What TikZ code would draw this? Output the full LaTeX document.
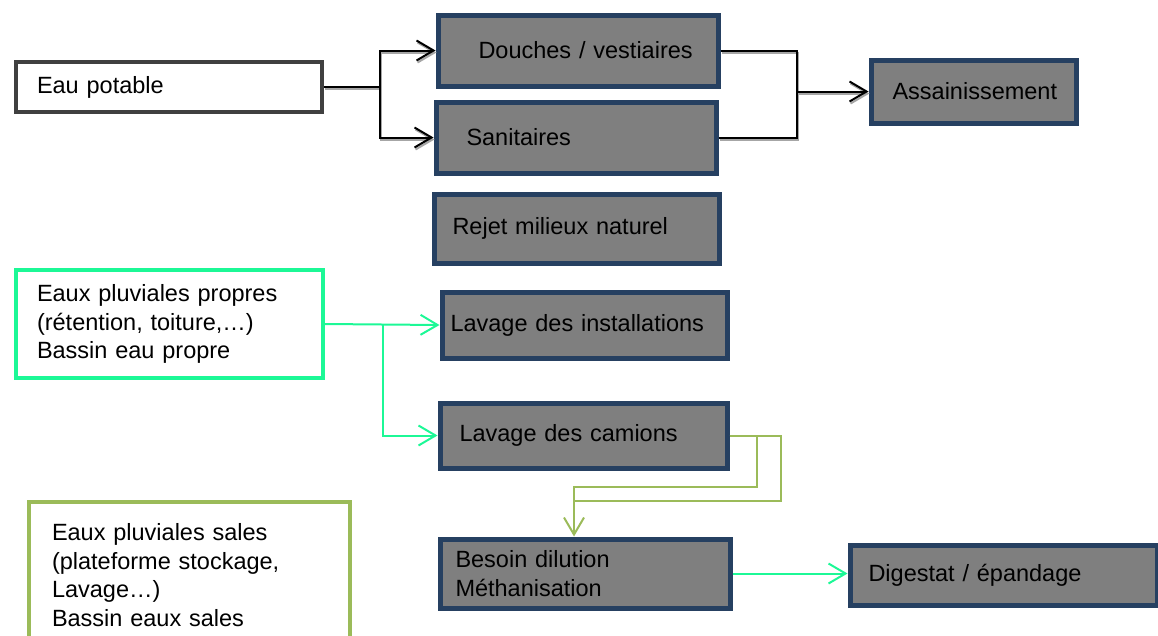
\documentclass[tikz,border=0pt]{standalone}
\usepackage{fontspec}
\setmainfont{Liberation Sans}
\usetikzlibrary{arrows.meta}
\definecolor{boxblue}{RGB}{38,64,97}
\definecolor{boxgray}{RGB}{127,127,127}
\definecolor{darkframe}{RGB}{64,64,64}
\definecolor{cleanwater}{RGB}{28,248,150}
\definecolor{dirtywater}{RGB}{155,187,89}

\begin{document}
\begin{tikzpicture}[x=1pt,y=-1pt,>={Straight Barb[length=17pt,width=20pt]},
    font=\fontsize{23.5pt}{28.5pt}\selectfont,
    every node/.style={anchor=north west,inner xsep=0pt,inner ysep=0pt,align=left},
    textindent/.style={execute at begin node={\leftskip=#1}},
    tank/.style={draw=boxblue,fill=boxgray,line width=5pt},
    source/.style={draw=#1,fill=white,line width=4pt},
    pipe/.style={black,line width=2pt,preaction={draw=black!35,line width=2pt,transform canvas={shift={(1pt,-2pt)}}}},
    clean/.style={cleanwater,line width=2pt},
    dirty/.style={dirtywater,line width=2pt}]
    \useasboundingbox (0,0) rectangle (1158,635);
    % sources
    \node[source=darkframe,minimum width=306,minimum height=50,text width=306pt,textindent=21pt] (eau) at (14,60) {Eau potable};
    \node[source=cleanwater,minimum width=307,minimum height=108,text width=307pt,textindent=21pt] (propres) at (14,268) {Eaux pluviales propres\\(rétention, toiture,…)\\Bassin eau propre};
    \node[source=dirtywater,minimum width=321,minimum height=146,text width=321pt,textindent=23pt] (sales) at (27,500) {Eaux pluviales sales\\(plateforme stockage,\\Lavage…)\\Bassin eaux sales};
    % usages
    \node[tank,minimum width=280,minimum height=71,text width=280pt,textindent=40.5pt] (douches) at (435.5,12.5) {Douches / vestiaires};
    \node[tank,minimum width=280,minimum height=71,text width=280pt,textindent=30.5pt] (sanit) at (433.5,99.5) {Sanitaires};
    \node[tank,minimum width=205,minimum height=63,text width=205pt,textindent=21.5pt] (assain) at (868.5,57.5) {Assainissement};
    \node[tank,minimum width=285,minimum height=69,text width=285pt,textindent=18.5pt] (rejet) at (431.5,191.5) {Rejet milieux naturel};
    \node[tank,minimum width=285,minimum height=66,text width=285pt,textindent=8.5pt] (lavinst) at (439.5,289.5) {Lavage des installations};
    \node[tank,minimum width=287,minimum height=65,text width=287pt,textindent=19.5pt] (camions) at (437.5,400.5) {Lavage des camions};
    \node[tank,minimum width=290,minimum height=69,text width=290pt,textindent=15.5pt] (besoin) at (437.5,536.5) {Besoin dilution\\Méthanisation};
    \node[tank,minimum width=307,minimum height=60,text width=307pt,textindent=18.5pt] (digestat) at (847.5,542.5) {Digestat / épandage};
    % eau potable
    \draw[pipe] (eau.east) -- ++(56,0) coordinate (split);
    \draw[pipe,->] (split) |- (douches.west);
    \draw[pipe,->] (split) |- (sanit.west);
    \path (assain.west) ++(-71.5,0) coordinate (merge);
    \draw[pipe] (douches.east) -| (merge);
    \draw[pipe] (sanit.east) -| (merge);
    \draw[pipe,->] (merge) -- (assain.west);
    % eaux propres
    \path (propres.east) ++(58,0) coordinate (gsplit);
    \draw[clean,->] (propres.east) -- (lavinst.west);
    \draw[clean,->] (gsplit) |- (camions.west);
    \draw[clean,->] (besoin.east) -- (besoin.east -| digestat.west);
    % eaux sales
    \path (camions.east) ++(27.5,51) coordinate (d1);
    \path (camions.east) ++(51.5,65) coordinate (d2);
    \path (d1) ++(-183,0) coordinate (drop);
    \draw[dirty,->] (camions.east) -| (d1) -- (drop) -- (drop |- besoin.north);
    \draw[dirty] (camions.east) -| (d2) -| (drop);
\end{tikzpicture}
\end{document}
